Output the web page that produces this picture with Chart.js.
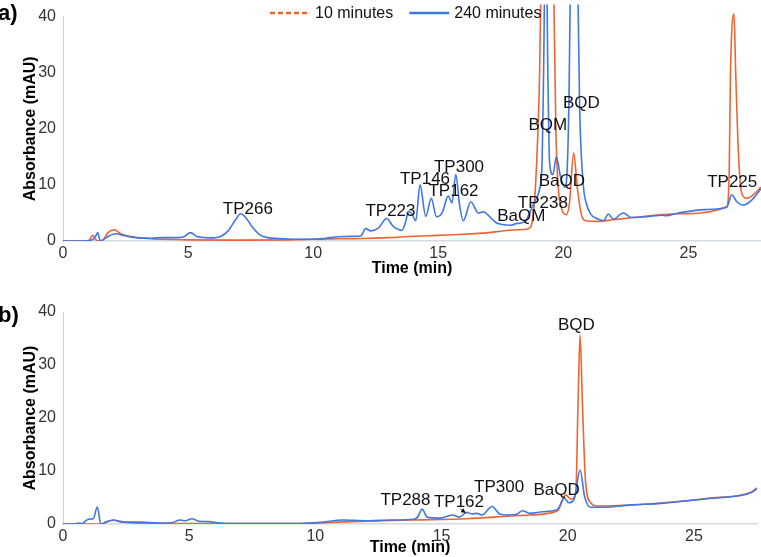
<!DOCTYPE html>
<html>
<head>
<meta charset="utf-8">
<script src="https://cdn.jsdelivr.net/npm/chart.js@4.4.1/dist/chart.umd.min.js"></script>
<style>
  html, body { margin: 0; padding: 0; background: #fff; overflow: hidden; }
  .panel { position: absolute; left: 0; width: 761px; }
  #wrapA { top: 0; height: 280px; }
  #wrapB { top: 280px; height: 277px; }
  .tag { position: absolute; font: bold 22px "Liberation Sans", Arial, sans-serif; color: #000; }
</style>
</head>
<body>
<div class="panel" id="wrapA"><canvas id="chartA"></canvas></div>
<div class="panel" id="wrapB"><canvas id="chartB"></canvas></div>
<div class="tag" style="left:-2px; top:0px;">a)</div>
<div class="tag" style="left:-2px; top:302px;">b)</div>
<script>
// panel a) - 10 minutes (orange) and 240 minutes (blue)
const tA10 = [0, 1.0, 1.1, 1.2, 1.3, 1.4, 1.6, 1.8, 2.05, 2.3, 2.6, 3.0, 3.5, 4.0, 5.0, 7.0, 9.0, 10.0, 11.0, 12.0, 13.0, 14.0, 15.0, 16.0, 17.0, 17.5, 18.2, 18.6, 18.8, 18.92, 19.05, 19.12, 19.35, 19.6, 19.7, 19.79, 19.92, 20.12, 20.25, 20.41, 20.56, 20.72, 20.9, 21.35, 22.0, 22.7, 24.6, 26.53, 26.63, 26.68, 26.82, 26.89, 27.0, 27.13, 27.33, 27.53, 27.9];
const yA10 = [0, 0, 0.5, 1.0, 0.3, 0, 0.2, 1.5, 2.0, 1.3, 0.9, 0.6, 0.4, 0.3, 0.2, 0.15, 0.2, 0.3, 0.4, 0.45, 0.6, 0.85, 1.0, 1.2, 1.5, 1.75, 2.0, 2.2, 4.8, 12.7, 29.8, 50, 100, 50, 20, 9.9, 5.9, 4.7, 7.0, 15.7, 9.4, 4.7, 3.6, 3.5, 3.8, 4.15, 4.85, 6.1, 12.7, 29.8, 40.5, 29.8, 15.5, 8.5, 7.6, 8.0, 9.6];

const tA240 = [0, 0.5, 1.0, 1.2, 1.3, 1.39, 1.45, 1.5, 1.6, 1.8, 2.0, 2.15, 2.4, 2.7, 3.0, 3.5, 4.0, 4.5, 4.8, 5.1, 5.35, 5.7, 6.0, 6.3, 6.6, 6.9, 7.1, 7.3, 7.6, 7.9, 8.2, 8.6, 9.0, 9.5, 10.0, 10.5, 11.0, 11.5, 11.9, 12.1, 12.3, 12.6, 12.94, 13.2, 13.55, 13.7, 13.8, 13.95, 14.1, 14.27, 14.5, 14.72, 14.93, 15.15, 15.4, 15.55, 15.7, 15.85, 16.0, 16.3, 16.6, 16.8, 16.95, 17.3, 17.5, 17.9, 18.1, 18.3, 18.5, 18.65, 18.85, 19.05, 19.15, 19.21, 19.3, 19.38, 19.45, 19.58, 19.72, 19.89, 20.05, 20.12, 20.22, 20.28, 20.43, 20.58, 20.65, 20.8, 20.9, 21.1, 21.4, 21.6, 21.8, 22.0, 22.4, 22.7, 23.5, 23.93, 24.1, 24.6, 25.66, 26.53, 26.73, 26.93, 27.2, 27.53, 27.9];
const yA240 = [0, 0, 0.05, 0.3, 0.8, 1.5, 0.5, 0, 0.2, 0.8, 1.2, 1.3, 1.0, 0.7, 0.55, 0.5, 0.6, 0.6, 0.7, 1.5, 0.8, 0.6, 0.55, 0.8, 1.8, 3.8, 4.85, 4.2, 2.3, 1.0, 0.6, 0.45, 0.35, 0.3, 0.3, 0.5, 0.75, 0.85, 0.9, 2.2, 1.8, 2.3, 4.0, 2.6, 1.9, 3.5, 5.3, 4.8, 3.6, 10.0, 4.4, 7.6, 4.3, 5.0, 8.0, 6.8, 11.85, 6.5, 3.6, 7.0, 5.0, 5.2, 4.8, 3.3, 3.0, 2.8, 3.1, 3.2, 3.6, 5.0, 7.0, 9.3, 14, 30, 60, 30, 14, 11.8, 15.0, 11.4, 9.6, 10.5, 24, 45, 60, 45, 24, 9.9, 7.0, 4.75, 3.9, 3.6, 4.8, 3.9, 5.0, 4.2, 4.4, 4.6, 4.5, 5.0, 5.6, 6.0, 8.25, 7.0, 6.4, 7.3, 9.3];

// panel b) - 0 minutes (orange) and 240 minutes (blue)
const tB0 = [0, 1.6, 1.7, 2.0, 2.5, 3.2, 5.0, 9.4, 11.1, 13.9, 16.0, 17.74, 18.5, 19.6, 19.92, 20.12, 20.32, 20.41, 20.49, 20.58, 20.71, 20.91, 21.17, 22.5, 23.7, 25.67, 27.26, 27.5];
const yB0 = [0, 0, 0.3, 0.7, 0.3, 0.15, 0.1, 0.1, 0.4, 0.75, 1.0, 1.5, 1.7, 2.5, 5.5, 4.7, 5.9, 23, 35.7, 23, 7.7, 4.0, 3.4, 3.6, 3.95, 4.9, 6.0, 6.8];

const tB240 = [0, 0.5, 0.6, 0.75, 0.9, 1.0, 1.2, 1.36, 1.5, 1.7, 2.0, 2.3, 3.05, 3.8, 4.3, 4.64, 4.85, 5.1, 5.4, 5.77, 6.2, 7.0, 9.4, 10.2, 11.1, 12.0, 12.98, 13.9, 14.05, 14.23, 14.43, 14.96, 15.42, 15.7, 16.0, 16.2, 16.4, 16.6, 17.0, 17.3, 17.6, 18.0, 18.2, 18.5, 19.0, 19.6, 19.86, 20.05, 20.25, 20.49, 20.67, 20.91, 21.44, 22.5, 23.7, 25.67, 27.26, 27.5];
const yB240 = [0, 0, 0.2, 0.05, 0.6, 0.9, 1.0, 3.2, 0, 0.4, 0.75, 0.4, 0.35, 0.2, 0.25, 0.75, 0.6, 1.0, 0.5, 0.45, 0.2, 0.1, 0.1, 0.3, 0.75, 0.6, 0.75, 0.9, 1.3, 2.8, 1.3, 1.1, 1.7, 1.3, 2.2, 1.9, 2.0, 1.7, 3.3, 1.9, 1.7, 1.9, 2.5, 2.0, 2.3, 2.8, 4.85, 4.0, 4.6, 10.2, 5.15, 3.15, 3.15, 3.6, 3.9, 4.85, 5.9, 6.7];

// peak labels (name, time, absorbance where the text sits)
const peaksA = ["TP266", "TP223", "TP146", "TP162", "TP300", "BaQM", "TP238", "BaQD", "BQM", "BQD", "TP225"];
const peaksAt = [7.39, 13.09, 14.47, 15.61, 15.83, 18.32, 19.18, 19.94, 19.38, 20.72, 26.75];
const peaksAy = [5.64, 5.3, 11.0, 8.8, 13.2, 4.44, 6.7, 10.6, 20.6, 24.5, 10.5];
const peaksB = ["TP288", "TP162", "TP300", "BaQD", "BQD"];
const peaksBt = [13.57, 15.69, 17.28, 19.56, 20.34];
const peaksBy = [4.5, 4.0, 6.9, 6.3, 37.5];

const yTicks = [0, 10, 20, 30, 40];
const xTicks = [0, 5, 10, 15, 20, 25];

const ORANGE = "#ef6431";
const BLUE = "#3f78e6";
const FONT = '"Liberation Sans", Arial, Helvetica, sans-serif';

function pts(ts, ys) {
    return ts.map((t, i) => ({ x: t, y: ys[i] }));
}

// text labels over the peaks
const peakLabels = {
    id: "peakLabels",
    afterDatasetsDraw(chart, args, opts) {
        const ctx = chart.ctx;
        const sx = chart.scales.x, sy = chart.scales.y;
        ctx.save();
        ctx.font = "17px " + FONT;
        ctx.fillStyle = "#111";
        ctx.textAlign = "center";
        ctx.textBaseline = "middle";
        opts.names.forEach((n, i) => {
            ctx.fillText(n, sx.getPixelForValue(opts.t[i]), sy.getPixelForValue(opts.y[i]));
        });
        if (opts.arrow) {
            // little pointer under TP162
            const x1 = sx.getPixelForValue(opts.arrow[0]), y1 = sy.getPixelForValue(opts.arrow[1]);
            const x2 = sx.getPixelForValue(opts.arrow[2]), y2 = sy.getPixelForValue(opts.arrow[3]);
            ctx.strokeStyle = "#111";
            ctx.lineWidth = 1;
            ctx.beginPath(); ctx.moveTo(x1, y1); ctx.lineTo(x2, y2); ctx.stroke();
            const a = Math.atan2(y2 - y1, x2 - x1);
            ctx.beginPath();
            ctx.moveTo(x2, y2);
            ctx.lineTo(x2 - 5 * Math.cos(a - 0.5), y2 - 5 * Math.sin(a - 0.5));
            ctx.lineTo(x2 - 5 * Math.cos(a + 0.5), y2 - 5 * Math.sin(a + 0.5));
            ctx.closePath(); ctx.fill();
        }
        ctx.restore();
    }
};

// legend drawn by hand so it can sit where the original has it
const lineLegend = {
    id: "lineLegend",
    afterDraw(chart, args, opts) {
        const ctx = chart.ctx;
        ctx.save();
        ctx.font = "16px " + FONT;
        ctx.textBaseline = "middle";
        let x = opts.x;
        opts.items.forEach(it => {
            ctx.strokeStyle = it.color;
            ctx.lineWidth = 2.5;
            ctx.setLineDash(it.dash ? [5, 3] : []);
            ctx.beginPath(); ctx.moveTo(x, opts.y); ctx.lineTo(x + 40, opts.y); ctx.stroke();
            ctx.setLineDash([]);
            ctx.fillStyle = "#111";
            ctx.fillText(it.text, x + 45, opts.y + 1);
            x += 45 + ctx.measureText(it.text).width + 16;
        });
        ctx.restore();
    }
};

function makeChart(id, cfg) {
    return new Chart(document.getElementById(id), {
        type: "line",
        data: {
            datasets: [
                {
                    label: "240 minutes",
                    data: pts(cfg.t240, cfg.y240),
                    borderColor: BLUE,
                    borderWidth: 1.6,
                    pointRadius: 0,
                    cubicInterpolationMode: "monotone",
                    clip: cfg.clip
                },
                {
                    label: cfg.otherLabel,
                    data: pts(cfg.tOther, cfg.yOther),
                    borderColor: ORANGE,
                    borderWidth: 1.6,
                    pointRadius: 0,
                    cubicInterpolationMode: "monotone",
                    clip: cfg.clip
                }
            ]
        },
        options: {
            responsive: true,
            maintainAspectRatio: false,
            animation: false,
            layout: { padding: { top: cfg.top, right: cfg.right, left: 0, bottom: 0 } },
            plugins: {
                legend: { display: false },
                tooltip: { enabled: false },
                peakLabels: { names: cfg.names, t: cfg.pt, y: cfg.py, arrow: cfg.arrow },
                lineLegend: {
                    x: cfg.legendX, y: cfg.legendY,
                    items: [
                        { text: cfg.otherLabel, color: ORANGE, dash: true },
                        { text: "240 minutes", color: BLUE, dash: false }
                    ]
                }
            },
            scales: {
                x: {
                    type: "linear",
                    min: 0,
                    max: cfg.xMax,
                    afterBuildTicks: s => { s.ticks = xTicks.map(v => ({ value: v })); },
                    afterFit: s => { s.height = cfg.xHeight; },
                    ticks: { color: "#333", padding: 3, font: { family: FONT, size: 16 }, maxRotation: 0 },
                    grid: { display: false, drawTicks: false },
                    border: { display: true, color: "#d3dbe0", width: 1.5 },
                    title: { display: true, text: "Time (min)", color: "#000", padding: { top: 0, bottom: cfg.titlePad }, font: { family: FONT, size: 16, weight: "bold" } }
                },
                y: {
                    min: 0,
                    max: 40,
                    afterBuildTicks: s => { s.ticks = yTicks.map(v => ({ value: v })); },
                    afterFit: s => { s.width = 63; },
                    ticks: { color: "#333", padding: 7, font: { family: FONT, size: 16 } },
                    grid: { display: false, drawTicks: false },
                    border: { display: true, color: "#c8d5de", width: 1 },
                    title: { display: true, text: "Absorbance (mAU)", color: "#000", padding: { top: 21, bottom: 0 }, font: { family: FONT, size: 16, weight: "bold" } }
                }
            }
        },
        plugins: [peakLabels, lineLegend]
    });
}

makeChart("chartA", {
    t240: tA240, y240: yA240, tOther: tA10, yOther: yA10,
    otherLabel: "10 minutes",
    names: peaksA, pt: peaksAt, py: peaksAy,
    clip: { left: 0, top: 12, right: 0, bottom: 0 },
    top: 7, right: 0, xMax: 27.9, xHeight: 39, titlePad: 2,
    legendX: 270, legendY: 13
});

makeChart("chartB", {
    t240: tB240, y240: yB240, tOther: tB0, yOther: yB0,
    otherLabel: "0 minutes",
    names: peaksB, pt: peaksBt, py: peaksBy,
    arrow: [15.75, 2.8, 15.95, 2.1],
    clip: { left: 0, top: 0, right: 0, bottom: 0 },
    top: 32, right: 4, xMax: 27.5, xHeight: 33, titlePad: 0,
    legendX: 272, legendY: -17
});
</script>
</body>
</html>
